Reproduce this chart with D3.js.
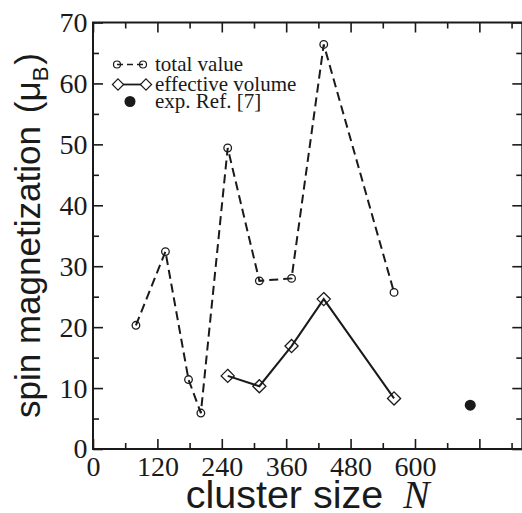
<!DOCTYPE html>
<html>
<head>
<meta charset="utf-8">
<script src="https://cdn.jsdelivr.net/npm/d3@7"></script>
<style>
  body { margin: 0; background: #fff; }
  svg { display: block; }
</style>
</head>
<body>
<svg id="chart" width="522" height="513"></svg>
<script>
// cluster sizes and spin magnetization (mu_B)
const totalN = [80, 135, 178, 201, 251, 310, 370, 430, 561]
const totalM = [20.3, 32.4, 11.4, 5.9, 49.4, 27.6, 28.0, 66.4, 25.7]
const effN = [251, 310, 370, 430, 561]
const effM = [12.0, 10.3, 16.9, 24.6, 8.3]
const expN = [703]
const expM = [7.2]

const xMajor = [0, 120, 240, 360, 480, 600, 720]
const xMinor = [60, 180, 300, 420, 540, 660, 780]
const yMajor = [0, 10, 20, 30, 40, 50, 60, 70]
const yMinor = [5, 15, 25, 35, 45, 55, 65]
const xLabels = ['0', '120', '240', '360', '480', '600', '']

const legendLabels = ['total value', 'effective volume', 'exp. Ref. [7]']

const svg = d3.select('#chart')
const margin = {top: 22.5, right: -0.3, bottom: 64, left: 93}
const width = 522 - margin.left - margin.right
const height = 513 - margin.top - margin.bottom
const g = svg.append('g')
  .attr('transform', 'translate(' + margin.left + ',' + margin.top + ')')

const x = d3.scaleLinear().domain([0, 800]).range([0, width])
const y = d3.scaleLinear().domain([0, 70]).range([height, 0])

const ink = '#1a1a1a'
const serif = 'Liberation Serif, Times New Roman, serif'
const sans = 'Liberation Sans, Arial, sans-serif'

// inward ticks on all four sides
function styleAxis (sel) {
  sel.attr('font-family', serif).attr('font-size', 28)
  sel.select('.domain').remove()
  sel.selectAll('.tick line').attr('stroke', ink).attr('stroke-width', 1.6)
  sel.selectAll('.tick text').attr('fill', ink)
}

g.append('g')
  .attr('transform', 'translate(0,' + height + ')')
  .call(d3.axisBottom(x).tickValues(xMajor).tickSize(-10).tickPadding(7)
    .tickFormat((d, i) => xLabels[i]))
  .call(styleAxis)
g.append('g')
  .attr('transform', 'translate(0,' + height + ')')
  .call(d3.axisBottom(x).tickValues(xMinor).tickSize(-6).tickFormat(''))
  .call(styleAxis)
g.append('g')
  .call(d3.axisTop(x).tickValues(xMajor).tickSize(-10).tickFormat(''))
  .call(styleAxis)
g.append('g')
  .call(d3.axisTop(x).tickValues(xMinor).tickSize(-6).tickFormat(''))
  .call(styleAxis)

g.append('g')
  .call(d3.axisLeft(y).tickValues(yMajor).tickSize(-10).tickPadding(5.5)
    .tickFormat(d3.format('d')))
  .call(styleAxis)
g.append('g')
  .call(d3.axisLeft(y).tickValues(yMinor).tickSize(-6).tickFormat(''))
  .call(styleAxis)
g.append('g')
  .attr('transform', 'translate(' + width + ',0)')
  .call(d3.axisRight(y).tickValues(yMajor).tickSize(-10).tickFormat(''))
  .call(styleAxis)
g.append('g')
  .attr('transform', 'translate(' + width + ',0)')
  .call(d3.axisRight(y).tickValues(yMinor).tickSize(-6).tickFormat(''))
  .call(styleAxis)

// frame
g.append('rect')
  .attr('x', 0).attr('y', 0)
  .attr('width', width).attr('height', height)
  .attr('fill', 'none')
  .attr('stroke', ink)
  .attr('stroke-width', 2)

const total = totalN.map((n, i) => ({n: n, m: totalM[i]}))
const eff = effN.map((n, i) => ({n: n, m: effM[i]}))
const exp = expN.map((n, i) => ({n: n, m: expM[i]}))

const line = d3.line()
  .x((d) => x(d.n))
  .y((d) => y(d.m))

// total value: dashed with open circles
g.append('path')
  .datum(total)
  .attr('fill', 'none')
  .attr('stroke', ink)
  .attr('stroke-width', 2)
  .attr('stroke-dasharray', '9,5')
  .attr('d', line)
g.selectAll('.tot')
  .data(total)
  .enter().append('circle')
  .attr('class', 'tot')
  .attr('cx', (d) => x(d.n))
  .attr('cy', (d) => y(d.m))
  .attr('r', 3.8)
  .attr('fill', 'none')
  .attr('stroke', ink)
  .attr('stroke-width', 1.3)

// effective volume: solid with open diamonds
g.append('path')
  .datum(eff)
  .attr('fill', 'none')
  .attr('stroke', ink)
  .attr('stroke-width', 2)
  .attr('d', line)
const diamond = d3.symbol().type(d3.symbolDiamond2).size(110)
g.selectAll('.eff')
  .data(eff)
  .enter().append('path')
  .attr('class', 'eff')
  .attr('transform', (d) => 'translate(' + x(d.n) + ',' + y(d.m) + ')')
  .attr('d', diamond)
  .attr('fill', 'none')
  .attr('stroke', ink)
  .attr('stroke-width', 1.3)

// experiment
g.selectAll('.exp')
  .data(exp)
  .enter().append('circle')
  .attr('class', 'exp')
  .attr('cx', (d) => x(d.n))
  .attr('cy', (d) => y(d.m))
  .attr('r', 5.5)
  .attr('fill', ink)

// legend
const leg = g.append('g').attr('transform', 'translate(24,42)')
const rowY = [0, 20, 37]
// row 1
leg.append('line').attr('x1', 0).attr('x2', 26).attr('y1', rowY[0]).attr('y2', rowY[0])
  .attr('stroke', ink).attr('stroke-width', 1.6).attr('stroke-dasharray', '6,4')
leg.selectAll('.lc').data([0, 26]).enter().append('circle')
  .attr('cx', (d) => d).attr('cy', rowY[0]).attr('r', 3.5)
  .attr('fill', 'none').attr('stroke', ink).attr('stroke-width', 1.2)
// row 2
leg.append('line').attr('x1', 1).attr('x2', 29).attr('y1', rowY[1]).attr('y2', rowY[1])
  .attr('stroke', ink).attr('stroke-width', 1.8)
leg.selectAll('.ld').data([1, 29]).enter().append('path')
  .attr('transform', (d) => 'translate(' + d + ',' + rowY[1] + ')')
  .attr('d', d3.symbol().type(d3.symbolDiamond2).size(80))
  .attr('fill', '#fff').attr('stroke', ink).attr('stroke-width', 1.2)
// row 3
leg.append('circle').attr('cx', 13).attr('cy', rowY[2]).attr('r', 5.5).attr('fill', ink)

leg.selectAll('.lt').data(legendLabels).enter().append('text')
  .attr('x', 38)
  .attr('y', (d, i) => rowY[i])
  .attr('dy', '0.33em')
  .attr('fill', ink)
  .attr('font-family', serif)
  .attr('font-size', 21)
  .text((d) => d)

// axis titles
const xt = svg.append('text')
  .attr('x', margin.left + width / 2)
  .attr('y', 507.5)
  .attr('text-anchor', 'middle')
  .attr('fill', ink)
  .attr('font-family', sans)
  .attr('font-size', 39.5)
xt.append('tspan').text('cluster size')
xt.append('tspan').attr('dx', 20)
  .attr('font-family', serif).attr('font-style', 'italic')
  .text('N')

const yt = svg.append('text')
  .attr('transform', 'translate(40,418) rotate(-90)')
  .attr('fill', ink)
  .attr('font-family', sans)
  .attr('font-size', 35)
yt.append('tspan').text('spin magnetization')
yt.append('tspan').attr('dx', 13).text('(\u03bc')
yt.append('tspan').attr('dy', 8).attr('font-size', 22).text('B')
yt.append('tspan').attr('dy', -8).attr('dx', 2).text(')')
</script>
</body>
</html>
